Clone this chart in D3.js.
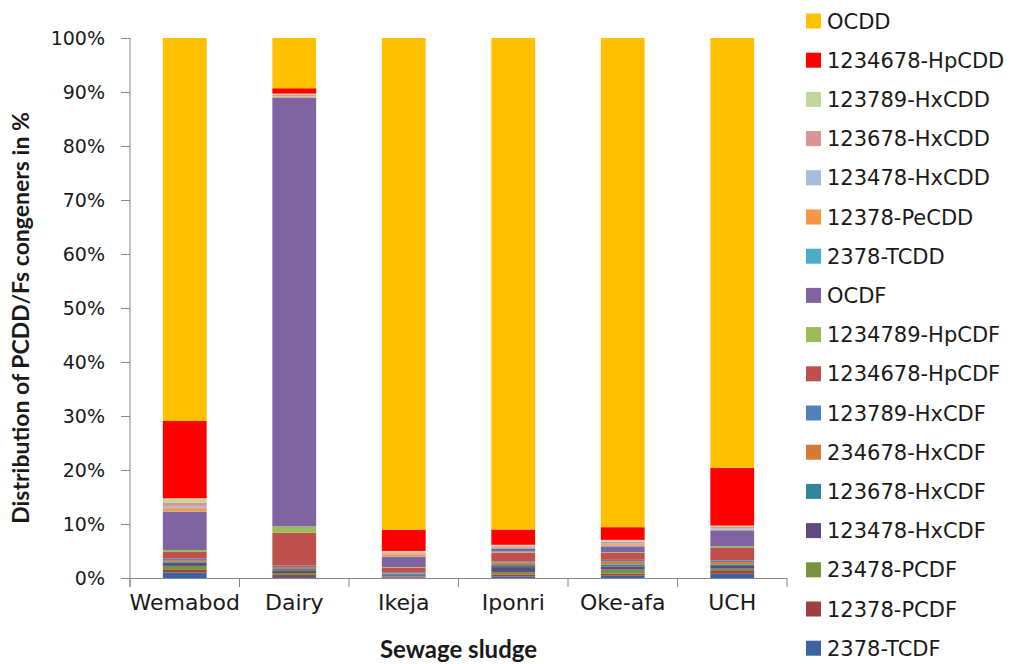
<!DOCTYPE html>
<html>
<head>
<meta charset="utf-8">
<script src="https://cdn.jsdelivr.net/npm/d3@7"></script>
<style>
  body { margin: 0; background: #fff; }
  text { fill: #1a1a1a; }
</style>
</head>
<body>
<svg width="1011" height="664"></svg>
<script>
let sites = ["Wemabod", "Dairy", "Ikeja", "Iponri", "Oke-afa", "UCH"];

// congeners, bottom of the stack first
let congeners = ["2378-TCDF", "12378-PCDF", "23478-PCDF", "123478-HxCDF", "123678-HxCDF",
  "234678-HxCDF", "123789-HxCDF", "1234678-HpCDF", "1234789-HpCDF", "OCDF",
  "2378-TCDD", "12378-PeCDD", "123478-HxCDD", "123678-HxCDD", "123789-HxCDD",
  "1234678-HpCDD", "OCDD"];

let colors = ["#3c64a0", "#a0403e", "#77933c", "#604a7b", "#31859c",
  "#d57b36", "#4f81bd", "#c0504d", "#9bbb59", "#8064a2",
  "#4bacc6", "#f79646", "#a8bcdb", "#d99694", "#c3d69b",
  "#ff0000", "#ffc000"];

// percentage of each congener, one value per site (same order as sites)
let values = {
  "2378-TCDF":     [1.0, 0.18, 0.1, 0.3, 0.43, 0.8],
  "12378-PCDF":    [0.5, 0.37, 0.15, 0.37, 0.37, 0.5],
  "23478-PCDF":    [0.74, 0.37, 0.07, 0.45, 0.75, 0.43],
  "123478-HxCDF":  [0.6, 0.5, 0.2, 0.9, 0.6, 0.5],
  "123678-HxCDF":  [0.25, 0.25, 0.2, 0.37, 0.37, 0.3],
  "234678-HxCDF":  [0.25, 0.37, 0.15, 0.5, 0.6, 0.43],
  "123789-HxCDF":  [0.25, 0.25, 0.2, 0.2, 0.25, 0.3],
  "1234678-HpCDF": [1.23, 6.1, 0.86, 1.6, 1.35, 2.3],
  "1234789-HpCDF": [0.37, 1.17, 0.1, 0.2, 0.1, 0.3],
  "OCDF":          [7.04, 79.33, 1.85, 0.55, 1.0, 2.96],
  "2378-TCDD":     [0.1, 0.05, 0.1, 0.1, 0.15, 0.05],
  "12378-PeCDD":   [0.6, 0.2, 0.4, 0.15, 0.3, 0.1],
  "123478-HxCDD":  [0.37, 0.1, 0.12, 0.1, 0.2, 0.25],
  "123678-HxCDD":  [0.6, 0.2, 0.25, 0.2, 0.3, 0.25],
  "123789-HxCDD":  [0.86, 0.25, 0.25, 0.15, 0.3, 0.25],
  "1234678-HpCDD": [14.3, 1.0, 3.95, 2.84, 2.35, 10.7],
  "OCDD":          [70.9, 9.3, 90.93, 90.93, 90.67, 79.7]
};

let yTicks = [0, 0.1, 0.2, 0.3, 0.4, 0.5, 0.6, 0.7, 0.8, 0.9, 1];

let rows = sites.map((s, i) => {
  let r = {site: s};
  congeners.forEach(c => r[c] = values[c][i]);
  return r;
});

let margin = {left: 130, top: 38, right: 224, bottom: 86};
let width = 1011 - margin.left - margin.right, height = 664 - margin.top - margin.bottom;

let svg = d3.select('svg');
let g = svg.append('g').attr('transform', 'translate(' + margin.left + ',' + margin.top + ')');

let x = d3.scaleBand().domain(sites).range([0, width]).padding(0);
let y = d3.scaleLinear().domain([0, 1]).range([height, 0]);
let color = d3.scaleOrdinal().domain(congeners).range(colors);

let stack = d3.stack().keys(congeners).offset(d3.stackOffsetExpand);
let series = stack(rows);

let barW = x.bandwidth() * 0.4;

g.selectAll('g.layer').data(series).enter().append('g')
    .attr('class', 'layer')
    .attr('fill', d => color(d.key))
  .selectAll('rect').data(d => d).enter().append('rect')
    .attr('x', d => x(d.data.site) + (x.bandwidth() - barW) / 2)
    .attr('width', barW)
    .attr('y', d => y(d[1]))
    .attr('height', d => y(d[0]) - y(d[1]));

// y axis
let yAxis = g.append('g')
    .call(d3.axisLeft(y).tickValues(yTicks).tickFormat(d3.format('.0%')).tickSize(9).tickPadding(16));
yAxis.select('.domain').attr('stroke', '#868686').attr('d', 'M0,0V' + (height + 9));
yAxis.selectAll('.tick line').attr('stroke', '#868686');
yAxis.selectAll('text').style('font-family', 'DejaVu Sans').style('font-size', '19px').attr('fill', '#1a1a1a');

// x axis
let xAxis = g.append('g')
    .attr('transform', 'translate(0,' + height + ')')
    .call(d3.axisBottom(x).tickSize(0).tickPadding(16));
xAxis.select('.domain').attr('stroke', '#868686');
xAxis.selectAll('text').style('font-family', 'DejaVu Sans').style('font-size', '22px').attr('fill', '#1a1a1a');
xAxis.selectAll('line.bound').data(sites.concat(['end'])).enter().append('line')
    .attr('class', 'bound')
    .attr('x1', d => d === 'end' ? width : x(d))
    .attr('x2', d => d === 'end' ? width : x(d))
    .attr('y1', 0).attr('y2', 9)
    .attr('stroke', '#868686');

// axis titles
svg.append('text')
    .attr('transform', 'translate(29,318) rotate(-90)')
    .attr('text-anchor', 'middle')
    .style('font-family', 'Lato').style('font-weight', 'bold').style('font-size', '23px')
    .text('Distribution of PCDD/Fs congeners in %');

svg.append('text')
    .attr('x', margin.left + width / 2).attr('y', 658)
    .attr('text-anchor', 'middle')
    .style('font-family', 'Lato').style('font-weight', 'bold').style('font-size', '24px')
    .text('Sewage sludge');

// legend, top to bottom = top of stack first
let legend = svg.append('g').attr('transform', 'translate(806,21)');
let items = legend.selectAll('g').data(congeners.slice().reverse()).enter().append('g')
    .attr('transform', (d, i) => 'translate(0,' + i * 39.2 + ')');
items.append('rect').attr('x', 0).attr('y', -7.5).attr('width', 15).attr('height', 15)
    .attr('fill', d => color(d));
items.append('text').attr('x', 21).attr('y', 0).attr('dy', '0.36em')
    .style('font-family', 'DejaVu Sans').style('font-size', '21px')
    .text(d => d);
</script>
</body>
</html>
